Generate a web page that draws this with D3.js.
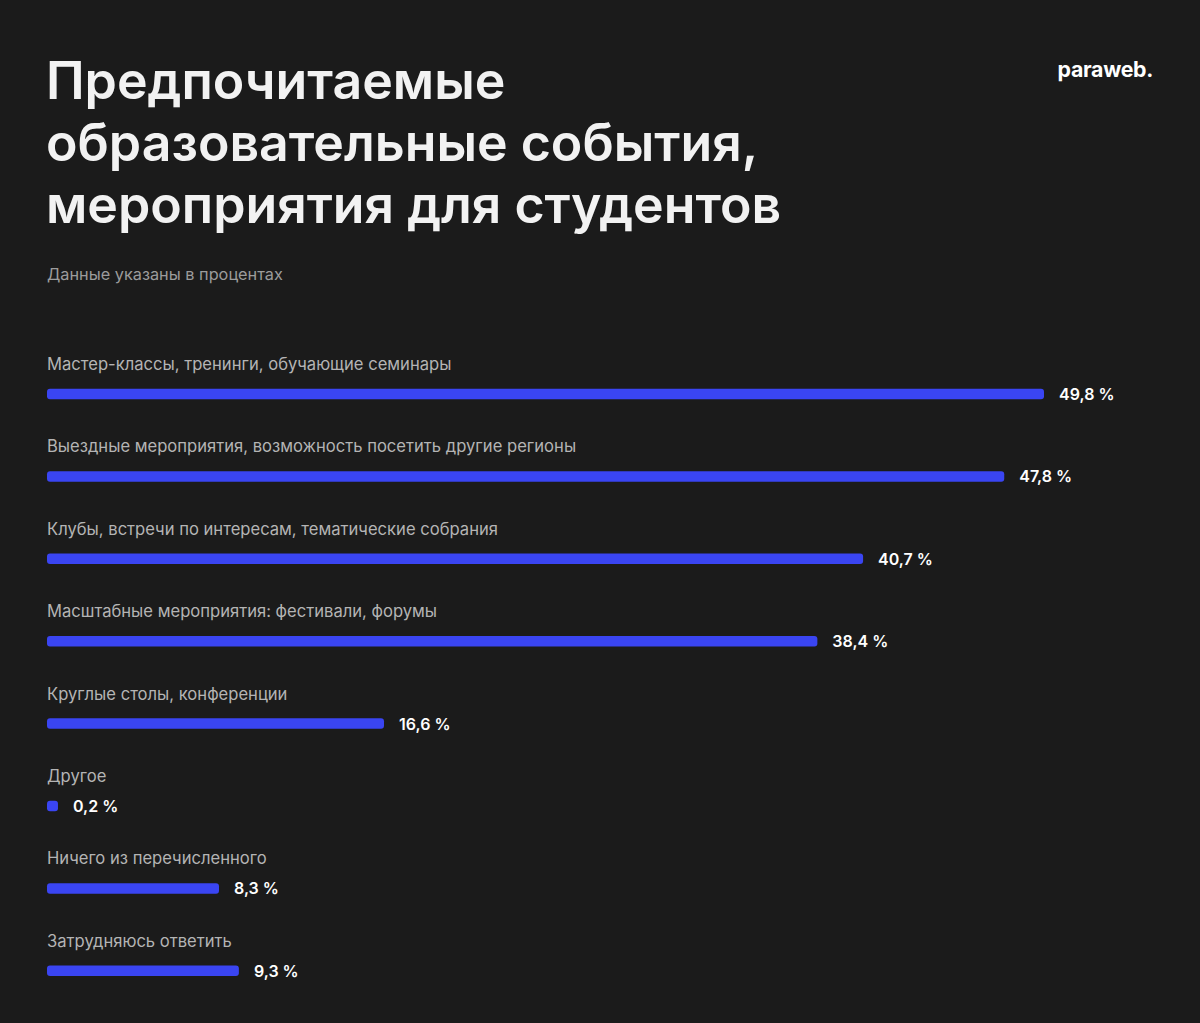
<!DOCTYPE html>
<html>
<head>
<meta charset="utf-8">
<script src="https://cdn.jsdelivr.net/npm/d3@7"></script>
<style>
  body { margin: 0; background: #1b1b1b; }
  svg { display: block; font-family: Inter, "Noto Sans", sans-serif; }
</style>
</head>
<body>
<div id="chart"></div>
<script>
const titleLines = ["Предпочитаемые", "образовательные события,", "мероприятия для студентов"];
const subtitle = "Данные указаны в процентах";
const brand = "paraweb.";

const categories = [
  "Мастер-классы, тренинги, обучающие семинары",
  "Выездные мероприятия, возможность посетить другие регионы",
  "Клубы, встречи по интересам, тематические собрания",
  "Масштабные мероприятия: фестивали, форумы",
  "Круглые столы, конференции",
  "Другое",
  "Ничего из перечисленного",
  "Затрудняюсь ответить"
];
const values = [49.8, 47.8, 40.7, 38.4, 16.6, 0.2, 8.3, 9.3];

const width = 1200, height = 1023;
const svg = d3.select("#chart").append("svg")
  .attr("width", width)
  .attr("height", height);

svg.append("rect").attr("width", width).attr("height", height).attr("fill", "#1b1b1b");

// title
svg.append("g").selectAll("text")
  .data(titleLines)
  .enter().append("text")
  .attr("x", 46)
  .attr("y", (d, i) => 99 + i * 62)
  .attr("fill", "#f2f2f2")
  .attr("font-size", 51.8)
  .attr("font-weight", 600)
  .text(d => d);

svg.append("text")
  .attr("x", 47).attr("y", 280)
  .attr("fill", "#9c9c9c")
  .attr("font-size", 16.3)
  .text(subtitle);

svg.append("text")
  .attr("x", 1153).attr("y", 77)
  .attr("text-anchor", "end")
  .attr("fill", "#ffffff")
  .attr("font-size", 21.3)
  .attr("font-weight", 700)
  .attr("letter-spacing", "-0.3px")
  .text(brand);

// scales: bars start a small cap before zero
let capPad = 7;
let x = d3.scaleLinear().domain([0, 49.8]).range([47 + capPad, 1044]);
let y = d3.scaleBand().domain(categories).range([330, 330 + 8 * 82.4]);

let barH = 10.5;
let rows = svg.append("g").selectAll("g")
  .data(categories)
  .enter().append("g")
  .attr("transform", d => "translate(0," + y(d) + ")");

rows.append("text")
  .attr("x", 47).attr("y", 40)
  .attr("fill", "#b4b4b4")
  .attr("font-size", 16.6)
  .text(d => d);

rows.append("rect")
  .attr("x", x(0) - capPad)
  .attr("y", 64 - barH / 2)
  .attr("width", (d, i) => x(values[i]) - x(0) + capPad)
  .attr("height", barH)
  .attr("rx", 3)
  .attr("fill", "#3a45f2");

rows.append("text")
  .attr("x", (d, i) => x(values[i]) + 15)
  .attr("y", 70)
  .attr("fill", "#ffffff")
  .attr("font-size", 16)
  .attr("font-weight", 600)
  .text((d, i) => d3.format(".1f")(values[i]).replace(".", ",") + " %");
</script>
</body>
</html>
